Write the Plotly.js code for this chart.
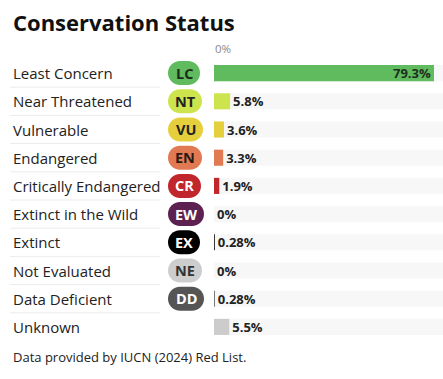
<!DOCTYPE html>
<html>
<head>
<meta charset="utf-8">
<script src="https://cdn.plot.ly/plotly-3.0.1.min.js"></script>
<style>
html,body{margin:0;padding:0;background:#fff;}
#chart{width:443px;height:379px;}
</style>
</head>
<body>
<div id="chart"></div>
<script>
// ---- data ----
var statusNames = ["Least Concern","Near Threatened","Vulnerable","Endangered","Critically Endangered","Extinct in the Wild","Extinct","Not Evaluated","Data Deficient","Unknown"];
var statusCodes = ["LC","NT","VU","EN","CR","EW","EX","NE","DD",""];
var percentValues = [79.3, 5.8, 3.6, 3.3, 1.9, 0, 0.28, 0, 0.28, 5.5];
var titleText = "Conservation Status";
var footnoteText = "Data provided by IUCN (2024) Red List.";
var axisLabel = "0%";

// ---- style ----
var barColors = ["#60bb5e","#cee44e","#e6cf3c","#e17a52","#c0262b","#5c2150","#000000","#cdcdcd","#555555","#cccccc"];
var badgeText = ["#1e2a1e","#222222","#222222","#2a1a14","#ffffff","#ffffff","#ffffff","#333333","#ffffff",""];
var FONT = "Open Sans, Noto Sans, sans-serif";
var W = 443, H = 379;
var mL = 214, mR = 0, mT = 59, mB = 38;
var plotW = W - mL - mR, plotH = H - mT - mB;
var barEndPx = 434;
var xMax = percentValues[0] * plotW / (barEndPx - mL);

function px2x(px){ return (px - mL) / plotW; }
function px2y(py){ return (H - mB - py) / plotH; }

var ctx = document.createElement("canvas").getContext("2d");
ctx.font = "bold 14px Open Sans";
function textW(t){ return ctx.measureText(t).width; }

var cats = statusNames;
var shapes = [], annotations = [];

// background tracks
cats.forEach(function(c, i){
  shapes.push({type:"rect", layer:"below", xref:"paper", yref:"y",
    x0:0, x1:1, y0:i-0.285, y1:i+0.285, fillcolor:"#f7f7f7", line:{width:0}});
});
// separators
for (var i = 0; i < cats.length - 1; i++) {
  shapes.push({type:"line", xref:"paper", yref:"y", x0:px2x(10), x1:px2x(160),
    y0:i+0.5, y1:i+0.5, line:{color:"#ececec", width:1}});
}
// left labels
cats.forEach(function(c, i){
  annotations.push({xref:"paper", yref:"y", x:px2x(11), y:c, text:c, showarrow:false,
    xanchor:"left", yanchor:"middle", font:{family:FONT, size:15, color:"#222"}});
});
// badges
function pill(w, h){
  var r = h/2, k = 0.5523*r;
  return "M "+r+","+(-r)+" L "+(w-r)+","+(-r)+
    " C "+(w-r+k)+","+(-r)+" "+w+","+(-k)+" "+w+",0"+
    " C "+w+","+k+" "+(w-r+k)+","+r+" "+(w-r)+","+r+
    " L "+r+","+r+
    " C "+(r-k)+","+r+" 0,"+k+" 0,0"+
    " C 0,"+(-k)+" "+(r-k)+","+(-r)+" "+r+","+(-r)+" Z";
}
statusCodes.forEach(function(code, i){
  if (!code) return;
  var w = Math.round(textW(code) + 15);
  var left = 168;
  shapes.push({type:"path", xref:"paper", yref:"y", xsizemode:"pixel", ysizemode:"pixel",
    xanchor:px2x(left), yanchor:cats[i], path:pill(w, 24),
    fillcolor:barColors[i], line:{width:0}});
  annotations.push({xref:"paper", yref:"y", x:px2x(left + w/2), y:cats[i], text:"<b>"+code+"</b>",
    showarrow:false, xanchor:"center", yanchor:"middle",
    font:{family:FONT, size:14.5, color:badgeText[i]}});
});
// title, axis label, footnote
annotations.push({xref:"paper", yref:"paper", x:px2x(11), y:px2y(22), text:"<b>"+titleText+"</b>",
  showarrow:false, xanchor:"left", yanchor:"middle", font:{family:FONT, size:22, color:"#111"}});
annotations.push({xref:"x", yref:"paper", x:0, y:px2y(48), text:axisLabel,
  showarrow:false, xanchor:"left", yanchor:"middle", xshift:-1, font:{family:FONT, size:11.5, color:"#888"}});
annotations.push({xref:"paper", yref:"paper", x:px2x(11), y:px2y(357), text:footnoteText,
  showarrow:false, xanchor:"left", yanchor:"middle", font:{family:FONT, size:13, color:"#222"}});

var textPos = percentValues.map(function(v, i){ return i === 0 ? "inside" : "outside"; });
var trace = {
  type:"bar", orientation:"h", y:cats, x:percentValues,
  marker:{color:barColors, line:{width:0}},
  text:percentValues.map(function(v){ return v + "%"; }),
  textposition:textPos, insidetextanchor:"end", constraintext:"none", cliponaxis:false,
  textfont:{family:FONT, size:13, color:"#222", weight:"bold"},
  insidetextfont:{family:FONT, size:13, color:"#1d2f1d", weight:"bold"},
  outsidetextfont:{family:FONT, size:13, color:"#222", weight:"bold"},
  hoverinfo:"skip"
};
var layout = {
  width:W, height:H, margin:{l:mL, r:mR, t:mT, b:mB, pad:0},
  paper_bgcolor:"#fff", plot_bgcolor:"rgba(0,0,0,0)",
  bargap:0.43, showlegend:false,
  xaxis:{range:[0, xMax], visible:false, fixedrange:true},
  yaxis:{type:"category", autorange:"reversed", visible:false, fixedrange:true},
  shapes:shapes, annotations:annotations
};
Plotly.newPlot("chart", [trace], layout, {staticPlot:true, displayModeBar:false});
</script>
</body>
</html>
